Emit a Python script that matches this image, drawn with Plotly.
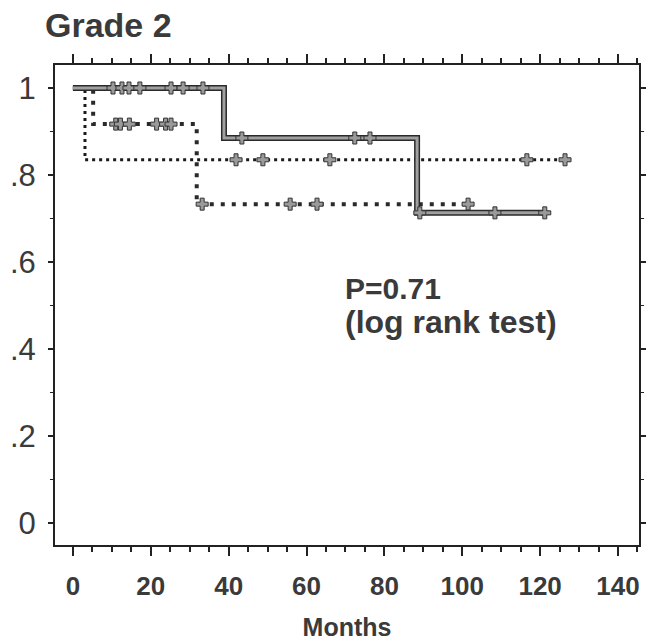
import plotly.graph_objects as go

# ---- data ----
solid_x = [0, 38.8, 88.4, 121.8]
solid_y = [1.0, 0.885, 0.713, 0.713]
solid_censor_x = [10.3, 12.6, 14.4, 17.2, 25.2, 28.3, 33.4, 43.4, 72.4, 76.3, 89.1, 108.4, 121.2]

round_x = [0, 3.1, 126.4]
round_y = [1.0, 0.835, 0.835]
round_censor_x = [41.9, 48.8, 66.0, 116.6, 126.4]

square_x = [0, 5.2, 31.8, 101.5]
square_y = [1.0, 0.917, 0.733, 0.733]
square_censor_x = [11.0, 12.2, 14.5, 21.5, 23.8, 25.2, 33.2, 55.8, 62.7, 101.5]

x_tick_vals = [0, 20, 40, 60, 80, 100, 120, 140]
y_tick_vals = [0, 0.2, 0.4, 0.6, 0.8, 1.0]
y_tick_text = ["0", ".2", ".4", ".6", ".8", "1"]

title_text = "Grade 2"
x_title = "Months"
p_text = "P=0.71"
test_text = "(log rank test)"


def step_value(xs, ys, t):
    v = ys[0]
    for xi, yi in zip(xs, ys):
        if t >= xi:
            v = yi
    return v


TXT = "#3a3a3a"
FONT = "Liberation Sans, Arial"
MARK = dict(symbol="cross", size=10, color="#9a9a9a", line=dict(color="#333", width=1))

fig = go.Figure()

# square-dotted curve
fig.add_trace(go.Scatter(x=square_x, y=square_y, mode="lines",
                         line=dict(shape="hv", color="#2a2a2a", width=4, dash="4px,7px"),
                         showlegend=False, hoverinfo="skip"))
fig.add_trace(go.Scatter(x=square_censor_x,
                         y=[step_value(square_x, square_y, t) for t in square_censor_x],
                         mode="markers", marker=MARK, showlegend=False, hoverinfo="skip"))

# round-dotted curve
fig.add_trace(go.Scatter(x=round_x, y=round_y, mode="lines",
                         line=dict(shape="hv", color="#1a1a1a", width=3, dash="3px,4px"),
                         showlegend=False, hoverinfo="skip"))
fig.add_trace(go.Scatter(x=round_censor_x,
                         y=[step_value(round_x, round_y, t) for t in round_censor_x],
                         mode="markers", marker=MARK, showlegend=False, hoverinfo="skip"))

# solid curve (dark edge + gray core)
fig.add_trace(go.Scatter(x=solid_x, y=solid_y, mode="lines",
                         line=dict(shape="hv", color="#2a2a2a", width=6),
                         showlegend=False, hoverinfo="skip"))
fig.add_trace(go.Scatter(x=solid_x, y=solid_y, mode="lines",
                         line=dict(shape="hv", color="#a0a0a0", width=3),
                         showlegend=False, hoverinfo="skip"))
fig.add_trace(go.Scatter(x=solid_censor_x,
                         y=[step_value(solid_x, solid_y, t) for t in solid_censor_x],
                         mode="markers", marker=MARK, showlegend=False, hoverinfo="skip"))

fig.add_annotation(x=69.4, y=0.5380, xref="x", yref="y", text=p_text, showarrow=False,
                   xanchor="left", yanchor="middle",
                   font=dict(family=FONT, size=30, color=TXT, weight="bold"))
fig.add_annotation(x=69.4, y=0.4630, xref="x", yref="y", text=test_text, showarrow=False,
                   xanchor="left", yanchor="middle",
                   font=dict(family=FONT, size=32, color=TXT, weight="bold"))

fig.update_layout(
    width=655, height=641,
    margin=dict(l=55, r=16, t=65, b=96, autoexpand=False),
    paper_bgcolor="white", plot_bgcolor="white",
    title=dict(text=title_text, xref="container", yref="container",
               x=45 / 655, xanchor="left", y=1 - 25 / 641, yanchor="middle",
               font=dict(family=FONT, size=34, color=TXT, weight="bold")),
    xaxis=dict(range=[-4.6, 145.4], tickvals=x_tick_vals, ticks="outside", ticklen=9,
               tickwidth=2, tickcolor="#222", showgrid=False, zeroline=False,
               showline=True, linecolor="#222", linewidth=2, mirror="ticks",
               automargin=False,
               minor=dict(dtick=5, ticks="outside", ticklen=5, tickwidth=1.5, tickcolor="#222"),
               tickfont=dict(family=FONT, size=26, color=TXT, weight="bold"),
               ticklabelstandoff=8,
               title=dict(text=x_title, standoff=24,
                          font=dict(family=FONT, size=25, color=TXT, weight="bold"))),
    yaxis=dict(range=[-0.0506, 1.0529], tickvals=y_tick_vals, ticktext=y_tick_text,
               ticks="outside", ticklen=5, tickwidth=1.5, tickcolor="#222",
               showgrid=False, zeroline=False, showline=True, linecolor="#222", linewidth=2,
               mirror="ticks", automargin=False,
               minor=dict(dtick=0.1, ticks="outside", ticklen=3, tickwidth=1, tickcolor="#222"),
               tickfont=dict(family=FONT, size=31, color=TXT),
               ticklabelstandoff=6),
)

fig.write_html("out.html")
